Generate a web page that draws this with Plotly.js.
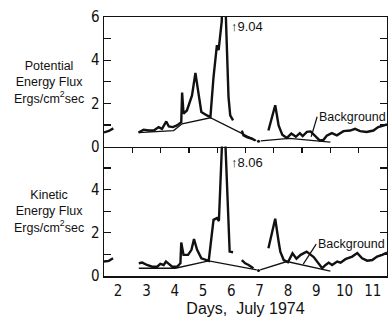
<!DOCTYPE html>
<html>
<head>
<meta charset="utf-8">
<script src="https://cdn.plot.ly/plotly-3.0.1.min.js"></script>
<style>html,body{margin:0;padding:0;background:#fff;}#chart{width:388px;height:317px;}</style>
</head>
<body>
<div id="chart"></div>
<script>
// ---- Data (days of July 1974, flux in ergs/cm^2 sec) ----
const dayLabels = ['2','3','4','5','6','7','8','9','10','11'];
const dayLabelPos = [2.5,3.5,4.5,5.5,6.5,7.5,8.5,9.5,10.5,11.5];
const dayBoundaries = [3,4,5,6,7,8,9,10,11];
const potTickVals = [0,2,4,6];
const kinTickVals = [0,2,4];

// Potential energy flux (top panel); null = gap in record
const potDays = [2.0,2.17,2.33,null,
  3.22,3.40,3.58,3.76,3.93,4.05,4.20,4.29,4.43,4.58,4.73,4.76,4.81,4.93,5.11,5.23,5.35,5.44,5.64,5.76,
  5.87,5.99,6.05,6.16,6.23,6.30,6.40,6.46,6.56,null,
  6.87,6.93,7.05,7.23,7.34,null,
  7.81,8.05,8.17,8.30,8.46,8.62,8.78,8.92,9.02,9.17,9.30,9.46,9.62,9.75,9.87,10.05,10.23,10.46,10.70,10.87,11.05,11.28,11.52,11.69,11.87,12.0];
const potFlux = [0.65,0.72,0.84,null,
  0.65,0.78,0.74,0.74,0.90,0.82,1.16,0.93,0.90,0.98,1.13,2.50,1.52,1.67,2.37,3.41,2.37,1.60,1.44,1.36,
  3.22,4.70,4.47,5.80,9.04,5.80,2.29,1.44,1.21,null,
  0.74,0.51,0.43,0.36,0.28,null,
  0.74,1.91,0.98,0.55,0.40,0.60,0.45,0.62,0.48,0.68,0.70,0.50,0.28,0.30,0.50,0.62,0.52,0.71,0.74,0.82,0.71,0.67,0.74,0.90,0.98,1.02];
const potBgDays = [3.22,4.46,4.76,5.76,7.38,null,7.54,8.55,10.0];
const potBgFlux = [0.64,0.74,1.05,1.33,0.27,null,0.26,0.38,0.20];
const potDotDay = [7.46];
const potDotFlux = [0.24];

// Kinetic energy flux (bottom panel)
const kinDays = [2.0,2.17,2.32,null,
  3.23,3.35,3.52,3.70,3.88,3.99,4.11,4.19,4.29,4.41,4.58,4.70,4.73,4.81,4.97,5.09,5.18,5.29,5.44,5.58,5.70,
  5.87,5.99,6.06,6.16,6.23,6.30,6.44,6.56,null,
  6.87,6.99,7.11,7.28,null,
  7.81,8.05,8.17,8.23,8.35,8.50,8.66,8.80,8.95,9.04,9.16,9.41,9.59,9.71,9.83,9.94,10.06,10.24,10.36,10.53,10.77,10.95,11.12,11.30,11.48,11.65,11.83,12.0];
const kinFlux = [0.67,0.70,0.82,null,
  0.59,0.62,0.51,0.43,0.43,0.56,0.51,0.67,0.56,0.43,0.43,0.59,1.55,0.98,0.98,1.21,1.71,1.21,0.82,0.74,0.70,
  2.60,2.68,2.55,5.80,8.06,5.80,1.13,1.10,null,
  0.74,0.59,0.51,0.36,null,
  1.29,2.65,1.60,1.13,0.74,0.64,1.05,0.80,0.98,1.06,1.13,0.88,0.59,0.36,0.51,0.62,0.51,0.67,0.62,0.78,0.90,1.06,0.82,0.71,0.74,0.90,0.98,1.08];
const kinBgDays = [3.23,4.52,5.70,7.40,null,7.52,8.46,10.0];
const kinBgFlux = [0.36,0.36,0.70,0.28,null,0.28,0.67,0.23];
const kinDotDay = [7.46];
const kinDotFlux = [0.26];

const peakPot = '9.04';
const peakKin = '8.06';

// ---- Styling ----
const ink = '#111';
const narrow = 'Liberation Sans Narrow, Arial Narrow, DejaVu Sans Condensed, sans-serif';
const sans = 'Liberation Sans, Arial, Helvetica, sans-serif';

const dataLine = {color: ink, width: 2.4};
const bgLine = {color: ink, width: 1.3};

const traces = [
  {x: potDays, y: potFlux, xaxis: 'x2', yaxis: 'y', mode: 'lines', line: dataLine, connectgaps: false},
  {x: potBgDays, y: potBgFlux, xaxis: 'x2', yaxis: 'y', mode: 'lines', line: bgLine, connectgaps: false},
  {x: potDotDay, y: potDotFlux, xaxis: 'x2', yaxis: 'y', mode: 'markers', marker: {color: ink, size: 3}},
  {x: kinDays, y: kinFlux, xaxis: 'x', yaxis: 'y2', mode: 'lines', line: dataLine, connectgaps: false},
  {x: kinBgDays, y: kinBgFlux, xaxis: 'x', yaxis: 'y2', mode: 'lines', line: bgLine, connectgaps: false},
  {x: kinDotDay, y: kinDotFlux, xaxis: 'x', yaxis: 'y2', mode: 'markers', marker: {color: ink, size: 3}}
];

const axisCommon = {showgrid: false, zeroline: false, showline: true, linecolor: ink, linewidth: 1.5,
  tickcolor: ink, tickwidth: 1.3, fixedrange: true};
const tickFont = {family: narrow, size: 15, color: ink};

function yTicks(vals) {
  return Object.assign({}, axisCommon, {range: [0, 6], tickmode: 'array', tickvals: vals,
    ticks: 'inside', ticklen: 7, mirror: 'ticks', tickfont: tickFont,
    minor: {tick0: 0, dtick: 1, ticks: 'inside', ticklen: 7, tickwidth: 1.3, tickcolor: ink, showgrid: false}});
}

const layout = {
  width: 388, height: 317,
  margin: {l: 104, r: 1, t: 17, b: 41, pad: 0},
  paper_bgcolor: '#fff', plot_bgcolor: '#fff',
  showlegend: false,
  xaxis: Object.assign({}, axisCommon, {anchor: 'y2', range: [2, 12], tickmode: 'array',
    tickvals: dayLabelPos, ticktext: dayLabels, ticks: '', tickfont: tickFont,
    title: {text: 'Days,  July 1974', font: {family: sans, size: 16, color: ink}, standoff: 7}}),
  xaxis3: Object.assign({}, axisCommon, {overlaying: 'x', anchor: 'y2', range: [2, 12], showline: false,
    tickmode: 'array', tickvals: dayBoundaries, ticks: 'outside', ticklen: 7, showticklabels: false}),
  xaxis2: Object.assign({}, axisCommon, {anchor: 'y', range: [2, 12], tickmode: 'array', tickvals: dayBoundaries,
    ticks: 'outside', ticklen: 5, showticklabels: false, mirror: true}),
  yaxis: Object.assign(yTicks(potTickVals), {domain: [0.5, 1], anchor: 'x2'}),
  yaxis2: Object.assign(yTicks(kinTickVals), {domain: [0, 0.5], anchor: 'x'}),
  annotations: []
};

// y-axis titles (horizontal, three lines each)
function yTitle(text, px, py) {
  return {text: text, xref: 'paper', yref: 'paper', x: (px - 104) / 283, y: (276 - py) / 259,
    xanchor: 'center', yanchor: 'middle', align: 'center', showarrow: false,
    font: {family: sans, size: 12.5, color: ink}};
}
layout.annotations.push(yTitle('Potential<br>Energy Flux<br>Ergs/cm<sup>2</sup>sec', 49, 82));
layout.annotations.push(yTitle('Kinetic<br>Energy Flux<br>Ergs/cm<sup>2</sup>sec', 49, 211));

// Peak values that run off scale (arrow + value)
layout.annotations.push({text: '\u2191' + peakPot, xref: 'x2', yref: 'y', x: 6.41, y: 5.55, xanchor: 'left',
  showarrow: false, font: {family: sans, size: 13, color: ink}});
layout.annotations.push({text: '\u2191' + peakKin, xref: 'x', yref: 'y2', x: 6.41, y: 5.25, xanchor: 'left',
  showarrow: false, font: {family: sans, size: 13, color: ink}});

// Background labels with pointers to the background curve
layout.annotations.push({text: 'Background', xref: 'x2', yref: 'y', x: 9.32, y: 0.45, ax: 6, ay: -20,
  xanchor: 'left', yanchor: 'middle', showarrow: true, arrowhead: 0, arrowwidth: 1.2, arrowcolor: ink,
  font: {family: sans, size: 12.5, color: ink}});
layout.annotations.push({text: 'Background', xref: 'x', yref: 'y2', x: 9.04, y: 0.55, ax: 13, ay: -20,
  xanchor: 'left', yanchor: 'middle', showarrow: true, arrowhead: 0, arrowwidth: 1.2, arrowcolor: ink,
  font: {family: sans, size: 12.5, color: ink}});

Plotly.newPlot('chart', traces, layout, {staticPlot: true, displayModeBar: false});
</script>
</body>
</html>
